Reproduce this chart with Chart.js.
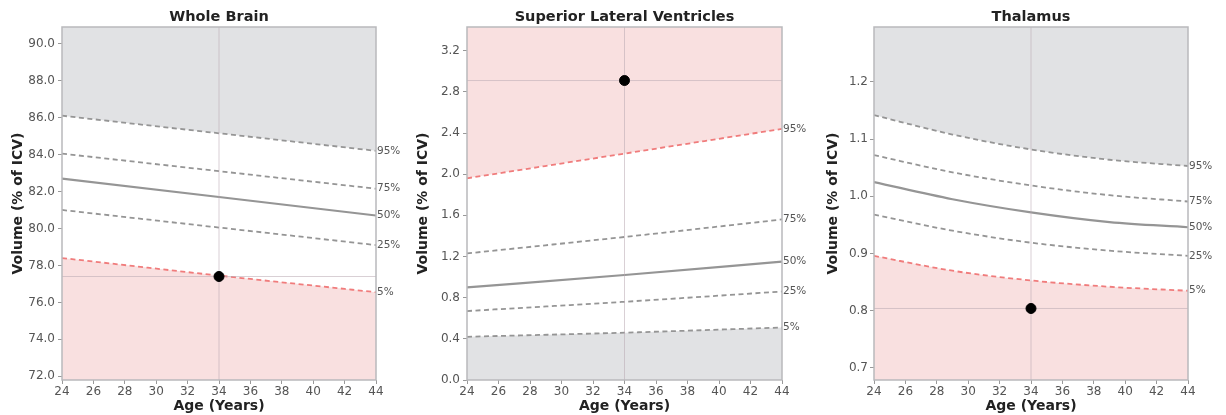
<!DOCTYPE html>
<html>
<head>
<meta charset="utf-8">
<script src="https://cdn.jsdelivr.net/npm/chart.js@4.4.1/dist/chart.umd.min.js"></script>
<style>
  html, body { margin: 0; padding: 0; background: #fff; }
  #wrap { position: relative; width: 1226px; height: 415px; }
  .panel { position: absolute; top: 0; height: 415px; }
</style>
</head>
<body>
<div id="wrap">
  <div class="panel" style="left:0;width:405px"><canvas id="c1"></canvas></div>
  <div class="panel" style="left:405px;width:410px"><canvas id="c2"></canvas></div>
  <div class="panel" style="left:815px;width:411px"><canvas id="c3"></canvas></div>
</div>
<script>
// percentile curves
const PCT_LABELS = ['95%', '75%', '50%', '25%', '5%'];
const SUBJECT_AGE = 34;

const WB_AGES = [24, 34, 44];
const WB_P95 = [86.1, 85.15, 84.2];
const WB_P75 = [84.05, 83.1, 82.15];
const WB_P50 = [82.7, 81.7, 80.7];
const WB_P25 = [81.0, 80.05, 79.1];
const WB_P05 = [78.4, 77.45, 76.55];
const WB_SUBJECT = 77.4;
const WB_TICKS = [72, 74, 76, 78, 80, 82, 84, 86, 88, 90];

const SLV_AGES = [24, 34, 44];
const SLV_P95 = [1.96, 2.2, 2.44];
const SLV_P75 = [1.23, 1.39, 1.56];
const SLV_P50 = [0.90, 1.02, 1.15];
const SLV_P25 = [0.67, 0.76, 0.86];
const SLV_P05 = [0.42, 0.46, 0.51];
const SLV_SUBJECT = 2.91;
const SLV_TICKS = [0, 0.4, 0.8, 1.2, 1.6, 2.0, 2.4, 2.8, 3.2];

const TH_AGES = [24, 29, 34, 39, 44];
const TH_P95 = [1.142, 1.108, 1.082, 1.064, 1.053];
const TH_P75 = [1.072, 1.042, 1.019, 1.002, 0.991];
const TH_P50 = [1.025, 0.995, 0.972, 0.955, 0.946];
const TH_P25 = [0.968, 0.940, 0.919, 0.905, 0.896];
const TH_P05 = [0.896, 0.870, 0.853, 0.842, 0.835];
const TH_SUBJECT = 0.804;
const TH_TICKS = [0.7, 0.8, 0.9, 1.0, 1.1, 1.2];

const X_TICKS = [24, 26, 28, 30, 32, 34, 36, 38, 40, 42, 44];

const GRAY_FILL = '#e1e2e4';
const PINK_FILL = '#f9e0e0';
const LINE_GRAY = '#959595';
const LINE_RED = '#f07c7c';
const FONT = '"DejaVu Sans", sans-serif';

function pts(xs, ys) {
    return xs.map((x, i) => ({ x: x, y: ys[i] }));
}

// frame around the plot area + percentile labels on the right
const framePlugin = {
    id: 'frame',
    afterDatasetsDraw(chart) {
        const a = chart.chartArea;
        const ctx = chart.ctx;
        ctx.save();
        ctx.strokeStyle = '#b9b9bc';
        ctx.lineWidth = 1.5;
        ctx.strokeRect(a.left, a.top, a.right - a.left, a.bottom - a.top);
        ctx.restore();
    },
    afterDraw(chart) {
        const ctx = chart.ctx;
        const y = chart.scales.y;
        ctx.save();
        ctx.font = '10.5px ' + FONT;
        ctx.fillStyle = '#555';
        ctx.textBaseline = 'middle';
        ctx.textAlign = 'left';
        chart.data.datasets.forEach(ds => {
            if (!ds.pctLabel) return;
            const last = ds.data[ds.data.length - 1];
            ctx.fillText(ds.pctLabel, chart.chartArea.right + 1, y.getPixelForValue(last.y));
        });
        ctx.restore();
    }
};

function makeChart(id, cfg) {
    const lines = [cfg.p95, cfg.p75, cfg.p50, cfg.p25, cfg.p05];
    const datasets = [];

    datasets.push({
        data: [{ x: SUBJECT_AGE, y: cfg.subject }],
        showLine: false,
        pointRadius: 5,
        pointBackgroundColor: '#000',
        pointBorderColor: '#000'
    });
    // subject reference lines
    datasets.push({
        data: [{ x: SUBJECT_AGE, y: cfg.ymin }, { x: SUBJECT_AGE, y: cfg.ymax }],
        borderColor: 'rgba(185,170,178,0.55)', borderWidth: 1, pointRadius: 0, fill: false
    });
    datasets.push({
        data: [{ x: 24, y: cfg.subject }, { x: 44, y: cfg.subject }],
        borderColor: 'rgba(185,170,178,0.55)', borderWidth: 1, pointRadius: 0, fill: false
    });

    lines.forEach((vals, i) => {
        const isTop = i === 0, isBottom = i === 4;
        let color = LINE_GRAY;
        if (isTop && cfg.topFill === PINK_FILL) color = LINE_RED;
        if (isBottom && cfg.bottomFill === PINK_FILL) color = LINE_RED;
        datasets.push({
            data: pts(cfg.ages, vals),
            pctLabel: PCT_LABELS[i],
            borderColor: color,
            borderWidth: i === 2 ? 2.2 : 1.8,
            borderDash: i === 2 ? [] : [5, 3.5],
            pointRadius: 0,
            cubicInterpolationMode: 'monotone',
            fill: isTop ? 'end' : (isBottom ? 'start' : false),
            backgroundColor: isTop ? cfg.topFill : (isBottom ? cfg.bottomFill : 'transparent')
        });
    });

    return new Chart(document.getElementById(id), {
        type: 'line',
        data: { datasets: datasets },
        plugins: [framePlugin],
        options: {
            responsive: true,
            maintainAspectRatio: false,
            animation: false,
            layout: { padding: { left: 0, right: cfg.padRight, top: 0, bottom: 0 } },
            plugins: {
                legend: { display: false },
                tooltip: { enabled: false },
                filler: { drawTime: 'beforeDatasetsDraw' },
                title: {
                    display: true,
                    text: cfg.title,
                    fullSize: false,
                    color: '#222',
                    font: { family: FONT, size: 14.5, weight: 'bold' },
                    padding: { top: 8.6, bottom: 1 }
                }
            },
            scales: {
                x: {
                    type: 'linear',
                    min: 24, max: 44,
                    afterBuildTicks: s => { s.ticks = X_TICKS.map(v => ({ value: v })); },
                    afterFit: s => { s.height = 35; },
                    grid: { drawOnChartArea: false, drawTicks: true, tickLength: 4, color: '#999' },
                    border: { display: false },
                    ticks: { color: '#555', font: { family: FONT, size: 12 }, padding: 1, maxRotation: 0 },
                    title: {
                        display: true, text: 'Age (Years)', color: '#222',
                        font: { family: FONT, size: 14, weight: 'bold' },
                        padding: { top: 0, bottom: 0 }
                    }
                },
                y: {
                    type: 'linear',
                    min: cfg.ymin, max: cfg.ymax,
                    afterBuildTicks: s => { s.ticks = cfg.ticks.map(v => ({ value: v })); },
                    afterFit: s => { s.width = cfg.yWidth; },
                    grid: { drawOnChartArea: false, drawTicks: true, tickLength: 4, color: '#999' },
                    border: { display: false },
                    ticks: {
                        color: '#555', font: { family: FONT, size: 12 }, padding: cfg.tickPad,
                        callback: v => Number(v).toFixed(1)
                    },
                    title: {
                        display: true, text: 'Volume (% of ICV)', color: '#222',
                        font: { family: FONT, size: 14, weight: 'bold' },
                        padding: { top: 9.6, bottom: 0 }
                    }
                }
            }
        }
    });
}

makeChart('c1', {
    title: 'Whole Brain', ages: WB_AGES,
    p95: WB_P95, p75: WB_P75, p50: WB_P50, p25: WB_P25, p05: WB_P05,
    subject: WB_SUBJECT, ticks: WB_TICKS, ymin: 71.8, ymax: 90.9,
    topFill: GRAY_FILL, bottomFill: PINK_FILL,
    yWidth: 62, padRight: 29, tickPad: 3
});
makeChart('c2', {
    title: 'Superior Lateral Ventricles', ages: SLV_AGES,
    p95: SLV_P95, p75: SLV_P75, p50: SLV_P50, p25: SLV_P25, p05: SLV_P05,
    subject: SLV_SUBJECT, ticks: SLV_TICKS, ymin: 0, ymax: 3.43,
    topFill: PINK_FILL, bottomFill: GRAY_FILL,
    yWidth: 62, padRight: 33, tickPad: 3
});
makeChart('c3', {
    title: 'Thalamus', ages: TH_AGES,
    p95: TH_P95, p75: TH_P75, p50: TH_P50, p25: TH_P25, p05: TH_P05,
    subject: TH_SUBJECT, ticks: TH_TICKS, ymin: 0.679, ymax: 1.296,
    topFill: GRAY_FILL, bottomFill: PINK_FILL,
    yWidth: 59, padRight: 38, tickPad: 2
});
</script>
</body>
</html>
